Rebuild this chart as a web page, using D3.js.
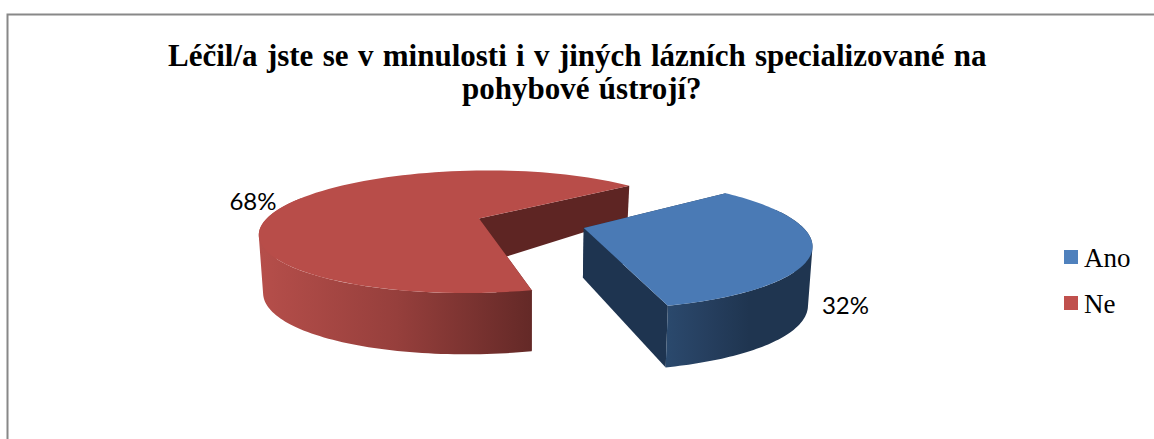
<!DOCTYPE html>
<html lang="cs">
<head>
<meta charset="utf-8">
<script src="https://cdn.jsdelivr.net/npm/d3@7"></script>
<style>
  html, body { margin: 0; padding: 0; background: #fff; }
  svg { display: block; }
</style>
</head>
<body>
<svg id="chart" width="1154" height="439"></svg>
<script>
// Responses, in the order the pie runs clockwise
const categories = ["Ano", "Ne"];
const values = [32, 68];
const titleLines = [
  "Léčil/a jste se v minulosti i v jiných lázních specializované na",
  "pohybové ústrojí?"
];
const topColors = ["#4a7ab5", "#b84d49"];
const legendColors = ["#4f81bd", "#c0504d"];
const wallColors = ["#1e3450", "#5e2523"];

const svg = d3.select("#chart");
const rad = d => d * Math.PI / 180;

// Pie layout: the first slice starts about 50 degrees clockwise from the back of the disc
const startDeg = 50.5;
const arcs = d3.pie().sort(null).value(d => d)
  .startAngle(rad(startDeg)).endAngle(rad(startDeg + 360))(values);

// Perspective view of the disc
const cx = 530.5, cy = 223.2, R = 216, tilt = 60.5, k = 0.22, explode = 0.255;

// Visible thickness of the disc: nearer parts look thicker
const thickness = d3.scaleLinear()
  .domain([-1.2, -0.75, 0.09, 0.2, 0.6, 1.1])
  .range([25, 32, 50, 58, 60, 62]);

function topPoint(x, y) {
  const w = 1 / (1 - k * y);
  return [cx + R * x * w, cy + tilt * y * w];
}
function bottomPoint(x, y) {
  const [tx, ty] = topPoint(x, y);
  return [cx + (tx - cx) * 0.984, ty + thickness(y)];
}

const bisector = a => (a.startAngle + a.endAngle) / 2;
// Both slices move apart along the bisector of the smaller one
const axis = bisector(arcs[0]);
const offsets = [1, -1].map(s => [s * explode * Math.sin(axis), -s * explode * Math.cos(axis)]);

const onRim = (i, t) => [
  offsets[i][0] + Math.sin(t),
  offsets[i][1] - Math.cos(t)
];
const line = d3.line();
const angleRange = (a, b) => d3.range(0, 91).map(n => a + (b - a) * n / 90);

const defs = svg.append("defs");
const addGradient = (id, x1, x2, stops) => {
  const g = defs.append("linearGradient")
    .attr("id", id).attr("gradientUnits", "userSpaceOnUse")
    .attr("x1", x1).attr("x2", x2).attr("y1", 0).attr("y2", 0);
  stops.forEach(([o, c]) => g.append("stop").attr("offset", o).attr("stop-color", c));
};
addGradient("rim0", 664, 806, [[0, "#2b4a6e"], [0.3, "#263f5f"], [0.6, "#1f3550"], [1, "#1f3550"]]);
addGradient("rim1", 262, 532, [[0, "#b54e4a"], [0.5, "#963f3c"], [1, "#642927"]]);

// Chart frame: open on the right and at the bottom
svg.append("path")
  .attr("d", "M7.5,439V14.5H1154")
  .attr("fill", "none").attr("stroke", "#888").attr("stroke-width", 2);

// Red slice first, blue slice in front of it
[1, 0].forEach(i => {
  const a = arcs[i];
  const g = svg.append("g").attr("class", "slice-" + categories[i]);
  const apex = offsets[i];

  // Cut faces
  [a.startAngle, a.endAngle].forEach(t => {
    const edge = onRim(i, t);
    g.append("path")
      .attr("d", line([topPoint(...apex), topPoint(...edge), bottomPoint(...edge), bottomPoint(...apex)]) + "Z")
      .attr("fill", wallColors[i]);
  });

  // Outer rim as small quads wound the same way, so the fold at the silhouette stays filled
  const rimAngles = i === 0
    ? angleRange(rad(72), a.endAngle)
    : angleRange(a.startAngle, rad(292));
  const rimPath = d3.pairs(rimAngles).map(([t0, t1]) => {
    const p0 = onRim(i, t0), p1 = onRim(i, t1);
    const quad = [topPoint(...p0), topPoint(...p1), bottomPoint(...p1), bottomPoint(...p0)];
    if (d3.polygonArea(quad) < 0) quad.reverse();
    return line(quad) + "Z";
  }).join("");
  g.append("path")
    .attr("d", rimPath)
    .attr("fill", `url(#rim${i})`);

  // Top surface
  const topOutline = [topPoint(...apex)].concat(
    angleRange(a.startAngle, a.endAngle).map(t => topPoint(...onRim(i, t)))
  );
  g.append("path").attr("d", line(topOutline) + "Z").attr("fill", topColors[i]);
});

// Title
const titleX = [168, 462];
svg.append("g").selectAll("text").data(titleLines).join("text")
  .attr("x", (d, i) => titleX[i])
  .attr("y", (d, i) => 65.5 + i * 33)
  .attr("font-family", "'Liberation Serif', serif")
  .attr("font-weight", "bold")
  .attr("font-size", 31)
  .attr("word-spacing", 1.6)
  .attr("fill", "#000")
  .text(d => d);

// Percentage labels
const labelSpots = [[845.5, 314], [253, 210]];
svg.append("g").selectAll("text").data(values).join("text")
  .attr("x", (d, i) => labelSpots[i][0])
  .attr("y", (d, i) => labelSpots[i][1])
  .attr("text-anchor", "middle")
  .attr("font-family", "Lato, sans-serif")
  .attr("font-size", 24)
  .attr("fill", "#000")
  .text(d => d + "%");

// Legend
const legendY = d3.scalePoint().domain(categories).range([250, 296]);
const legend = svg.append("g").selectAll("g").data(categories).join("g")
  .attr("transform", d => `translate(1064,${legendY(d)})`);
legend.append("rect")
  .attr("width", 14).attr("height", 14)
  .attr("fill", (d, i) => legendColors[i]);
legend.append("text")
  .attr("x", 20).attr("y", 17)
  .attr("font-family", "'Liberation Serif', serif")
  .attr("font-size", 27)
  .attr("fill", "#000")
  .text(d => d);
</script>
</body>
</html>
